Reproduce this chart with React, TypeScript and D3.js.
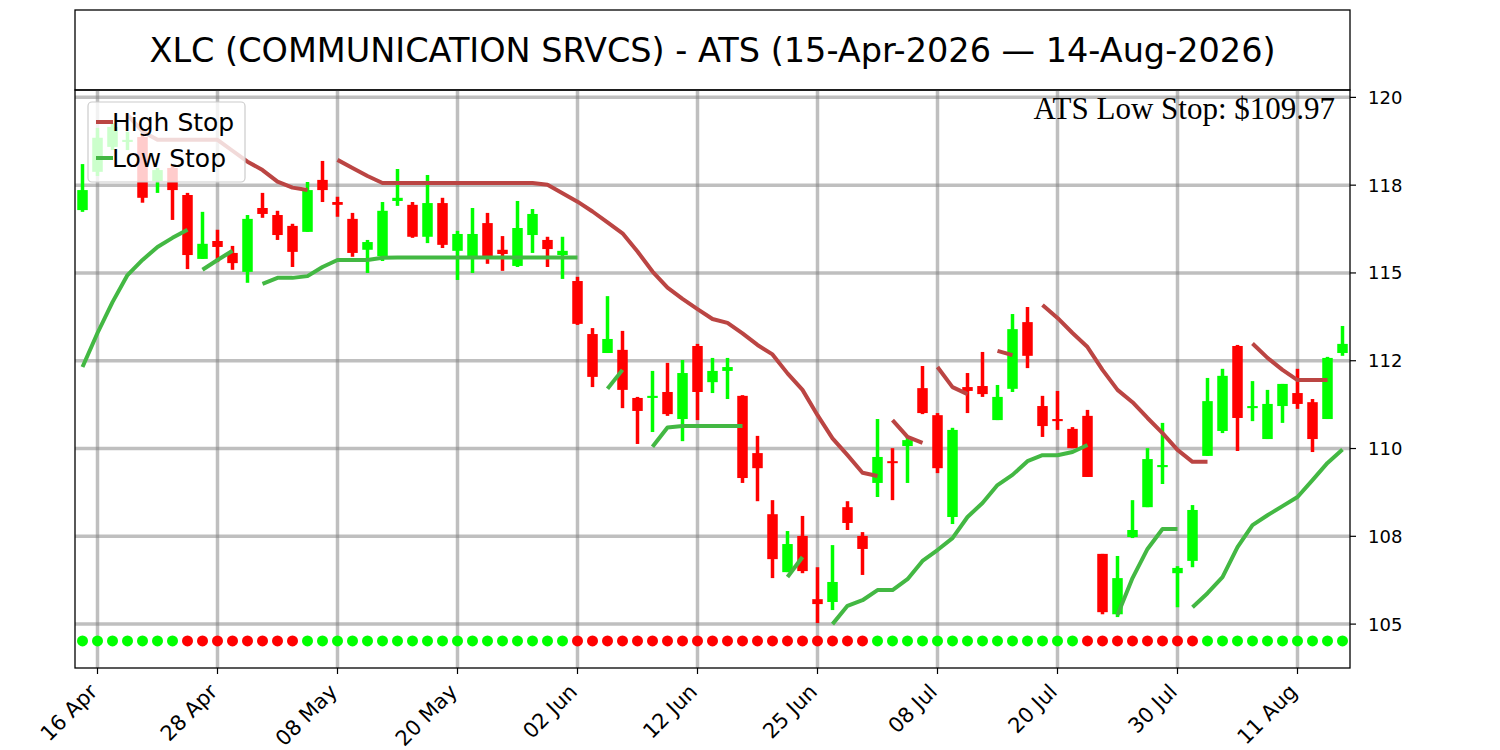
import React from 'react';
import * as d3 from 'd3';

// OHLC per trading day, 15-Apr-2026 .. 14-Aug-2026 (85 sessions)
const opens = [
  116.79, 117.88, 118.59, 118.73, 118.87, 117.62, 117.99, 117.22, 115.40, 115.91,
  115.57, 115.03, 116.85, 116.65, 116.34, 116.17, 117.65, 117.02, 116.54, 115.66,
  115.48, 117.05, 116.94, 116.03, 116.99, 115.63, 115.48, 116.42, 115.66, 115.20,
  116.08, 115.94, 115.51, 114.77, 113.26, 112.72, 112.81, 111.44, 111.44, 111.61,
  110.84, 112.92, 111.89, 112.21, 111.50, 109.87, 108.13, 106.48, 107.51, 105.71,
  105.63, 108.33, 107.51, 109.02, 109.64, 110.07, 111.72, 110.95, 108.05, 111.75,
  111.78, 110.81, 111.70, 113.60, 111.21, 110.84, 110.56, 110.93, 107.00, 105.28,
  107.48, 108.33, 109.47, 106.45, 106.80, 109.79, 110.50, 112.92, 111.15, 110.27,
  111.21, 111.58, 111.32, 110.84, 112.72,
];
const highs = [
  118.10, 119.13, 119.27, 119.02, 118.96, 117.99, 118.08, 117.28, 116.74, 116.23,
  115.77, 116.65, 117.28, 116.77, 116.40, 117.59, 118.19, 117.17, 116.71, 115.94,
  117.02, 117.96, 117.02, 117.79, 117.14, 116.20, 116.85, 116.71, 116.05, 117.05,
  116.82, 116.03, 116.03, 114.89, 113.43, 114.34, 113.35, 111.47, 112.21, 112.44,
  112.52, 112.98, 112.58, 112.58, 111.52, 110.36, 108.53, 107.65, 108.08, 106.62,
  107.25, 108.50, 107.62, 110.84, 110.01, 110.36, 112.35, 111.01, 110.59, 112.15,
  112.75, 111.81, 113.83, 114.03, 111.50, 111.64, 110.61, 111.10, 107.00, 106.94,
  108.53, 110.01, 110.73, 106.65, 108.39, 112.01, 112.27, 112.95, 111.92, 111.67,
  111.84, 112.27, 111.41, 112.61, 113.49,
];
const lows = [
  116.74, 117.76, 118.50, 118.50, 117.00, 117.28, 116.51, 115.11, 115.40, 115.31,
  115.09, 114.72, 116.57, 115.94, 115.17, 116.17, 117.02, 116.60, 115.46, 115.00,
  115.34, 116.91, 116.00, 115.85, 115.71, 114.80, 115.00, 115.26, 115.06, 115.17,
  115.57, 115.17, 114.83, 113.52, 111.75, 112.72, 111.15, 110.13, 110.47, 110.93,
  110.21, 110.81, 111.58, 111.41, 109.02, 108.50, 106.31, 106.48, 106.45, 105.03,
  105.40, 107.68, 106.40, 108.62, 108.53, 109.02, 110.98, 109.30, 107.85, 111.01,
  111.47, 110.81, 111.61, 112.29, 110.33, 110.53, 110.01, 109.19, 105.28, 105.20,
  107.45, 108.33, 108.99, 105.48, 106.62, 109.79, 110.44, 109.93, 110.78, 110.27,
  110.73, 111.13, 109.90, 110.84, 112.64,
];
const closes = [
  117.36, 118.85, 119.16, 118.79, 117.14, 117.93, 117.36, 115.51, 115.83, 115.74,
  115.28, 116.54, 116.68, 116.08, 115.60, 117.36, 117.36, 116.94, 115.57, 115.88,
  116.77, 117.14, 116.03, 116.99, 115.80, 116.11, 116.11, 115.48, 115.54, 116.28,
  116.68, 115.68, 115.63, 113.55, 112.04, 113.12, 111.67, 111.07, 111.50, 110.98,
  112.15, 111.61, 112.21, 112.32, 109.16, 109.44, 106.85, 107.28, 106.51, 105.57,
  106.20, 107.88, 107.14, 109.76, 109.59, 110.24, 111.01, 109.44, 110.53, 111.64,
  111.55, 111.47, 113.40, 112.64, 110.64, 110.78, 110.01, 109.19, 105.34, 106.31,
  107.68, 109.70, 109.53, 106.60, 108.25, 111.35, 112.07, 110.87, 111.21, 111.27,
  111.84, 111.27, 110.27, 112.58, 112.98,
];

// ATS stop segments: first session index of each segment, then its values
const highStopStarts = [3, 17, 54, 57, 61, 64, 78];
const highStopValues = [
  [119.50, 119.03, 118.79, 118.79, 118.79, 118.79, 118.79, 118.48, 118.17, 117.93, 117.60, 117.43, 117.36],
  [118.22, 117.99, 117.76, 117.56, 117.56, 117.56, 117.56, 117.56, 117.56, 117.56, 117.56, 117.56, 117.56, 117.56,
   117.51, 117.27, 117.03, 116.75, 116.44, 116.13, 115.61, 115.04, 114.58, 114.26, 113.97, 113.69, 113.58, 113.28,
   112.95, 112.68, 112.14, 111.67, 110.95, 110.29, 109.81, 109.31, 109.22],
  [110.81, 110.33, 110.16],
  [112.32, 111.75, 111.55],
  [112.78, 112.66],
  [114.09, 113.72, 113.29, 112.89, 112.24, 111.67, 111.32, 110.87, 110.44, 109.96, 109.62, 109.62],
  [112.99, 112.58, 112.24, 111.95, 111.95, 111.95],
];
const lowStopStarts = [0, 8, 12, 35, 38, 47, 50, 69, 74];
const lowStopValues = [
  [112.32, 113.29, 114.17, 114.94, 115.37, 115.74, 116.00, 116.23],
  [115.09, 115.37, 115.63],
  [114.69, 114.86, 114.86, 114.91, 115.17, 115.37, 115.37, 115.37, 115.43, 115.44, 115.44, 115.44, 115.44, 115.44,
   115.44, 115.44, 115.44, 115.44, 115.44, 115.44, 115.44, 115.44],
  [111.70, 112.24],
  [110.05, 110.60, 110.64, 110.64, 110.64, 110.64, 110.64],
  [106.34, 106.91],
  [105.00, 105.52, 105.68, 105.97, 105.97, 106.28, 106.80, 107.11, 107.45, 108.05, 108.45, 108.96, 109.25, 109.64,
   109.81, 109.81, 109.90, 110.10],
  [105.26, 106.31, 107.14, 107.71, 107.71],
  [105.48, 105.88, 106.34, 107.19, 107.82, 108.10, 108.36, 108.62, 109.10, 109.59, 109.97],
];

// sessions where the trend dot is red (inclusive ranges)
const downTrendRanges = [[7, 14], [33, 52], [67, 74]];
const trendDotLevel = 104.52;

const xTickIndex = [1, 9, 17, 25, 33, 41, 49, 57, 65, 73, 81];
const xTickLabels = ['16 Apr', '28 Apr', '08 May', '20 May', '02 Jun', '12 Jun', '25 Jun', '08 Jul', '20 Jul', '30 Jul', '11 Aug'];
const yTickValues = [105, 107.5, 110, 112.5, 115, 117.5, 120];
const yTickLabels = ['105', '108', '110', '112', '115', '118', '120'];

const title = 'XLC (COMMUNICATION SRVCS) - ATS (15-Apr-2026 \u2014 14-Aug-2026)';
const lastLowStop = 109.97;

const W = 1500;
const H = 750;
const plot = { left: 75, right: 1350, top: 90, bottom: 668 };
const UP = '#00ff00';
const DOWN = '#ff0000';
const HIGH_COLOR = '#bb4543';
const LOW_COLOR = '#43b843';
const FONT = "'DejaVu Sans', sans-serif";

const App: React.FC = () => {
  const n = opens.length;
  const x = d3.scaleLinear().domain([-0.5, n - 0.5]).range([plot.left, plot.right]);
  const y = d3.scaleLinear().domain([103.75, 120.21]).range([plot.bottom, plot.top]);
  const step = x(1) - x(0);
  const bodyW = step * 0.7;
  const wickW = 3.5;

  const line = d3.line<[number, number]>()
    .x((d) => x(d[0]))
    .y((d) => y(d[1]));

  const toPts = (start: number, vals: number[]) => vals.map((v, i) => [start + i, v] as [number, number]);

  const isDown = (i: number) => downTrendRanges.some(([a, b]) => i >= a && i <= b);

  return (
    <div style={{ position: 'absolute', left: 0, top: 0 }}>
      <svg width={W} height={H} style={{ display: 'block', background: '#fff' }}>
        {/* title box */}
        <rect x={plot.left} y={10} width={plot.right - plot.left} height={plot.top - 10}
          fill="white" stroke="black" strokeWidth={1.3} />
        <text x={(plot.left + plot.right) / 2} y={50} textAnchor="middle" dominantBaseline="central"
          fontFamily={FONT} fontSize={33.5} fill="#000">{title}</text>

        <defs>
          <clipPath id="plotClip">
            <rect x={plot.left} y={plot.top} width={plot.right - plot.left} height={plot.bottom - plot.top} />
          </clipPath>
        </defs>

        <g clipPath="url(#plotClip)">
          {/* grid */}
          {yTickValues.map((v) => (
            <line key={'gy' + v} x1={plot.left} x2={plot.right} y1={y(v)} y2={y(v)}
              stroke="#808080" strokeOpacity={0.5} strokeWidth={3.5} />
          ))}
          {xTickIndex.map((i) => (
            <line key={'gx' + i} x1={x(i)} x2={x(i)} y1={plot.top} y2={plot.bottom}
              stroke="#808080" strokeOpacity={0.5} strokeWidth={3.5} />
          ))}

          {/* candles */}
          {opens.map((o, i) => {
            const c = closes[i];
            const col = c >= o ? UP : DOWN;
            const top = y(Math.max(o, c));
            const bot = y(Math.min(o, c));
            return (
              <g key={'c' + i}>
                <rect x={x(i) - wickW / 2} y={y(highs[i])} width={wickW} height={y(lows[i]) - y(highs[i])} fill={col} />
                <rect x={x(i) - bodyW / 2} y={top} width={bodyW} height={Math.max(bot - top, 2)} fill={col} />
              </g>
            );
          })}

          {/* stops */}
          {highStopStarts.map((s, k) => (
            <path key={'hs' + k} d={line(toPts(s, highStopValues[k])) || ''} fill="none"
              stroke={HIGH_COLOR} strokeWidth={4} strokeLinejoin="round" />
          ))}
          {lowStopStarts.map((s, k) => (
            <path key={'ls' + k} d={line(toPts(s, lowStopValues[k])) || ''} fill="none"
              stroke={LOW_COLOR} strokeWidth={4} strokeLinejoin="round" />
          ))}

          {/* trend dots */}
          {opens.map((_, i) => (
            <circle key={'d' + i} cx={x(i)} cy={y(trendDotLevel)} r={5.5} fill={isDown(i) ? DOWN : UP} />
          ))}
        </g>

        {/* frame */}
        <rect x={plot.left} y={plot.top} width={plot.right - plot.left} height={plot.bottom - plot.top}
          fill="none" stroke="black" strokeWidth={1.3} />

        {/* y axis on right */}
        {yTickValues.map((v, k) => (
          <g key={'yt' + v}>
            <line x1={plot.right} x2={plot.right + 6} y1={y(v)} y2={y(v)} stroke="black" strokeWidth={1.2} />
            <text x={plot.right + 18} y={y(v)} dominantBaseline="central" fontFamily={FONT} fontSize={18}>
              {yTickLabels[k]}
            </text>
          </g>
        ))}

        {/* x axis */}
        {xTickIndex.map((i, k) => (
          <g key={'xt' + i}>
            <line x1={x(i)} x2={x(i)} y1={plot.bottom} y2={plot.bottom + 6} stroke="black" strokeWidth={1.2} />
            <text transform={`translate(${x(i) + 1},${plot.bottom + 25}) rotate(-45)`} textAnchor="end"
              fontFamily={FONT} fontSize={21}>{xTickLabels[k]}</text>
          </g>
        ))}

        {/* legend */}
        <g>
          <rect x={88} y={102} width={157} height={80} rx={4} fill="white" fillOpacity={0.8}
            stroke="#cccccc" strokeWidth={1.2} />
          <line x1={96} x2={113} y1={122} y2={122} stroke={HIGH_COLOR} strokeWidth={4} />
          <text x={112} y={122} dominantBaseline="central" fontFamily={FONT} fontSize={25}>High Stop</text>
          <line x1={96} x2={113} y1={158} y2={158} stroke={LOW_COLOR} strokeWidth={4} />
          <text x={112} y={158} dominantBaseline="central" fontFamily={FONT} fontSize={25}>Low Stop</text>
        </g>

        {/* last stop annotation */}
        <text x={1335} y={119} textAnchor="end" fontFamily="'Liberation Serif', 'Times New Roman', serif"
          fontSize={31} fill="#000">{`ATS Low Stop: $${lastLowStop.toFixed(2)}`}</text>
      </svg>
    </div>
  );
};

export default App;
